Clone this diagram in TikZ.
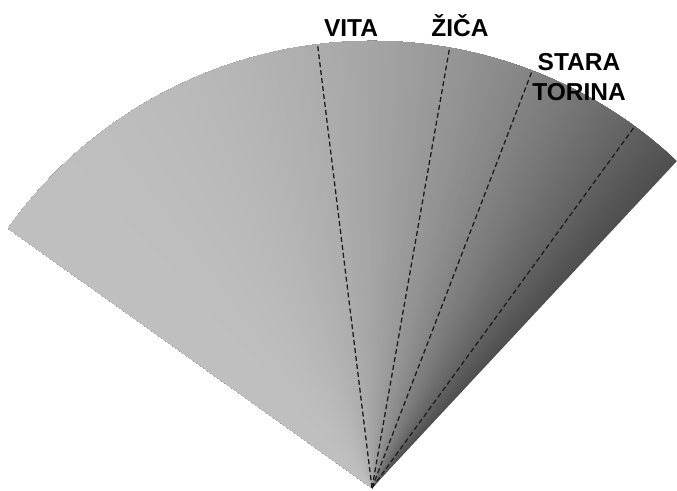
\documentclass[tikz,border=0pt]{standalone}
\usepackage{fontspec}
\newfontfamily\placefont{Liberation Sans}
\usetikzlibrary{calc}
\definecolor{DashGray}{RGB}{30,30,30}

\begin{document}
\begin{tikzpicture}[
  x=1pt,y=1pt,
  border/.style={dash pattern=on 5pt off 3pt,line width=1.3pt,color=DashGray},
  place/.style={font=\placefont\bfseries\fontsize{24.5}{30}\selectfont,
                text=black,inner sep=0pt,anchor=base},
]
\useasboundingbox (0,0) rectangle (677,490);
\coordinate (apex) at (372,2);

%% fan, darker toward the east (each wedge runs on to the west edge)
\foreach \ang in {47,47.5,...,144}{
  \pgfmathsetmacro{\shadeval}{25+44*((144.5-\ang)/97.5)^2.5}
  \fill[black!\shadeval] (apex) -- ++(\ang:447)
    arc[start angle=\ang,end angle=144.5,radius=447] -- cycle;
}

%% dashed boundaries
\foreach \ang/\nm in {97/vita,80/zica,69/stara,54/east}
  \coordinate (\nm) at ($(apex)+(\ang:447)$);
\draw[border] (apex) -- (vita);
\draw[border] (apex) -- (zica);
\draw[border] (apex) -- (stara);
\draw[border] (apex) -- (east);

%% labels
\node[place] (vitalbl)  at (351,453) {VITA};
\node[place] (zicalbl)  at (460,453) {ŽIČA};
\node[place,align=center,anchor=center] (staralbl) at (579,413) {STARA\\TORINA};

\end{tikzpicture}
\end{document}
